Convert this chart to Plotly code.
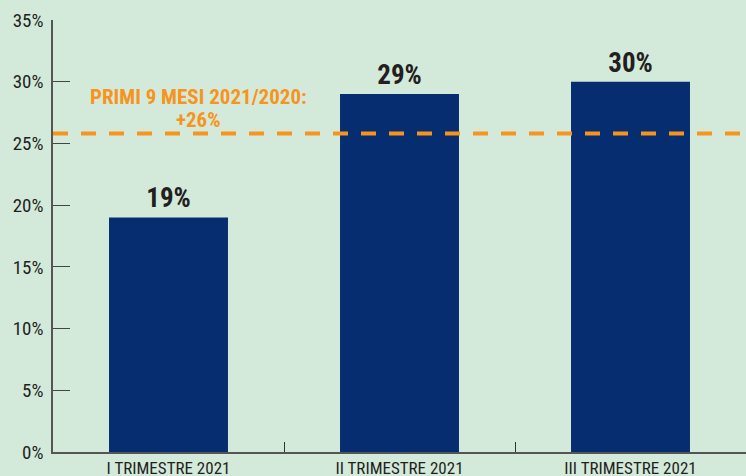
import plotly.graph_objects as go

categories = ["I TRIMESTRE 2021", "II TRIMESTRE 2021", "III TRIMESTRE 2021"]
values = [19, 29, 30]
value_labels = ["19%", "29%", "30%"]
reference_value = 25.8
reference_lines = ["PRIMI 9 MESI 2021/2020:", "+26%"]
y_ticks = [0, 5, 10, 15, 20, 25, 30, 35]
y_tick_labels = [f"{v}%" for v in y_ticks]

FONT = "Liberation Sans Narrow, Roboto Condensed, Arial Narrow, Liberation Sans, sans-serif"
BG = "#d3eadb"

fig = go.Figure()
fig.add_trace(go.Bar(
    x=categories, y=values,
    marker=dict(color="#062d6f", line=dict(width=0)),
    width=0.515,
    text=value_labels, textposition="outside",
    textfont=dict(family=FONT, size=27, color="#231f20", weight="bold"),
    cliponaxis=False,
))

fig.add_shape(type="line", xref="paper", x0=0, x1=1, yref="y",
              y0=reference_value, y1=reference_value,
              line=dict(color="#f7941d", width=4, dash="15px,13px"), layer="above")

for txt, yv in zip(reference_lines, [28.78, 26.86]):
    fig.add_annotation(x=0.13, xref="x", y=yv, yref="y", text=txt,
                       showarrow=False, align="center",
                       font=dict(family=FONT, size=21, color="#f7941d", weight="bold"))

fig.update_layout(
    width=746, height=476,
    margin=dict(l=53, r=0, t=20, b=24),
    paper_bgcolor=BG, plot_bgcolor=BG,
    showlegend=False, bargap=0.485,
    xaxis=dict(range=[-0.5, 2.5], showline=True, linecolor="#555555", linewidth=2,
               ticks="inside", tickson="boundaries", ticklen=10, tickcolor="#333333",
               tickfont=dict(family=FONT, size=17, color="#231f20"),
               ticklabelstandoff=0, showgrid=False, automargin=False),
    yaxis=dict(range=[0, 35], tickvals=y_ticks, ticktext=y_tick_labels,
               showline=True, linecolor="#555555", linewidth=1.5,
               ticks="inside", ticklen=17, tickcolor="#444444",
               tickfont=dict(family=FONT, size=19, color="#231f20"),
               showgrid=False, zeroline=False, ticklabelstandoff=4, automargin=False),
)

fig.write_html("out.html", config={"displayModeBar": False},
               post_script="document.body.style.margin='0';document.body.style.overflow='hidden';")
